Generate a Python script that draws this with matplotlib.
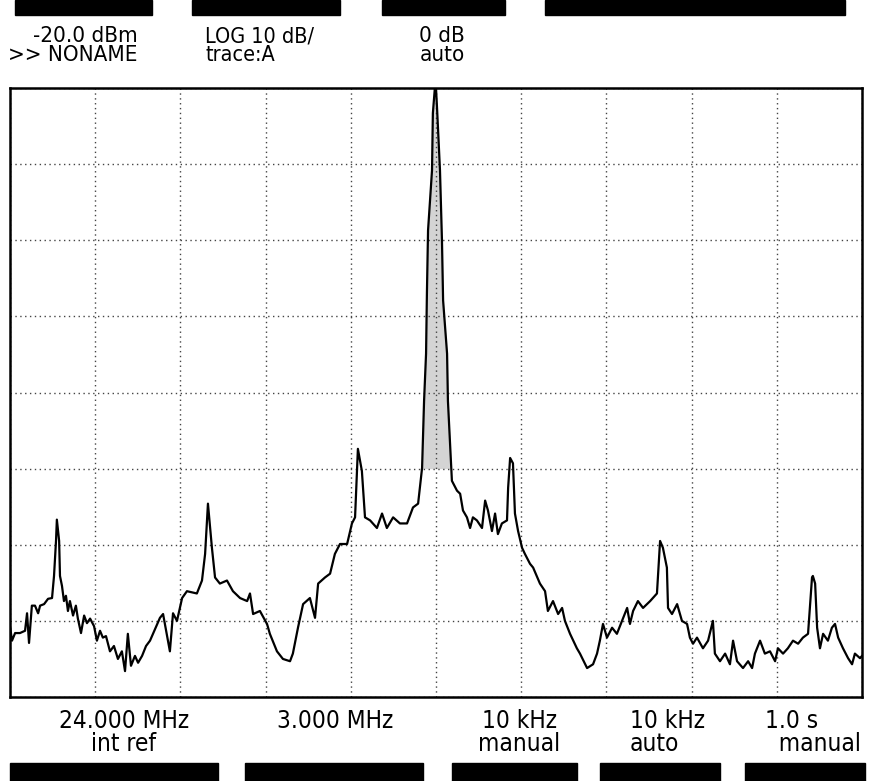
import matplotlib.pyplot as plt
import matplotlib.patches as patches
import numpy as np

# spectrum analyser settings
center_mhz = 24.0
span_mhz = 3.0
ref_level = -20.0
db_per_div = 10

# trace (MHz, dBm)
freq = [22.500, 22.507, 22.518, 22.535, 22.553, 22.560, 22.567, 22.577, 22.588, 22.599,
        22.606, 22.620, 22.634, 22.648, 22.655, 22.662, 22.665, 22.673, 22.676, 22.683,
        22.690, 22.697, 22.704, 22.711, 22.722, 22.732, 22.739, 22.750, 22.761, 22.771,
        22.782, 22.796, 22.806, 22.817, 22.827, 22.838, 22.852, 22.866, 22.880, 22.894,
        22.905, 22.915, 22.926, 22.940, 22.951, 22.965, 22.979, 22.993, 23.028, 23.039,
        23.063, 23.074, 23.088, 23.106, 23.123, 23.158, 23.176, 23.187, 23.197, 23.211,
        23.222, 23.239, 23.264, 23.285, 23.310, 23.335, 23.345, 23.356, 23.380, 23.405,
        23.415, 23.440, 23.461, 23.486, 23.496, 23.514, 23.532, 23.556, 23.574, 23.585,
        23.609, 23.627, 23.644, 23.662, 23.687, 23.704, 23.715, 23.725, 23.739, 23.750,
        23.768, 23.792, 23.810, 23.827, 23.849, 23.873, 23.898, 23.919, 23.937, 23.951,
        23.954, 23.958, 23.965, 23.968, 23.972, 23.986, 23.989, 23.996, 24.000, 24.004,
        24.014, 24.021, 24.025, 24.039, 24.042, 24.049, 24.056, 24.074, 24.085, 24.095,
        24.109, 24.120, 24.130, 24.144, 24.162, 24.173, 24.183, 24.197, 24.208, 24.218,
        24.232, 24.250, 24.254, 24.261, 24.271, 24.278, 24.289, 24.303, 24.313, 24.331,
        24.342, 24.366, 24.384, 24.394, 24.412, 24.430, 24.444, 24.454, 24.472, 24.496,
        24.507, 24.532, 24.553, 24.567, 24.577, 24.588, 24.602, 24.620, 24.637, 24.655,
        24.673, 24.683, 24.694, 24.711, 24.729, 24.754, 24.778, 24.789, 24.799, 24.813,
        24.817, 24.831, 24.849, 24.866, 24.884, 24.894, 24.905, 24.919, 24.940, 24.958,
        24.975, 24.982, 25.000, 25.018, 25.035, 25.046, 25.060, 25.081, 25.099, 25.113,
        25.123, 25.141, 25.158, 25.176, 25.194, 25.204, 25.222, 25.239, 25.257, 25.275,
        25.292, 25.310, 25.324, 25.327, 25.335, 25.342, 25.352, 25.363, 25.380, 25.394,
        25.405, 25.416, 25.433, 25.451, 25.465, 25.475, 25.493, 25.500]
level = [-90.7, -92.6, -91.6, -91.6, -91.3, -89.0, -92.9, -88.0, -88.0, -89.0,
         -88.0, -87.8, -87.1, -87.0, -84.1, -79.5, -76.7, -79.5, -84.1, -85.4,
         -87.4, -86.7, -88.7, -87.4, -89.3, -88.0, -89.7, -91.6, -89.3, -90.3,
         -89.7, -90.7, -92.6, -91.3, -92.2, -92.0, -94.0, -93.3, -95.0, -94.0,
         -96.6, -91.7, -95.9, -94.6, -95.5, -94.6, -93.3, -92.6, -89.6, -89.1,
         -94.0, -89.0, -90.0, -87.0, -86.1, -86.4, -84.7, -81.2, -74.6, -80.4,
         -84.3, -85.1, -84.7, -86.1, -87.0, -87.4, -86.4, -89.1, -88.7, -90.4,
         -91.7, -94.0, -95.0, -95.3, -94.3, -90.9, -87.8, -87.0, -89.6, -85.1,
         -84.3, -83.8, -81.2, -79.9, -79.9, -77.2, -76.4, -67.4, -70.3, -76.4,
         -76.8, -77.8, -75.9, -77.8, -76.4, -77.2, -77.2, -75.1, -74.6, -69.9,
         -66.3, -61.1, -54.9, -47.0, -38.7, -30.8, -23.3, -20.0, -20.0, -22.9,
         -30.8, -40.0, -47.9, -54.9, -61.1, -66.3, -71.6, -72.9, -73.3, -75.5,
         -76.4, -77.8, -76.4, -76.8, -77.8, -74.2, -75.5, -78.2, -75.9, -78.6,
         -77.2, -76.8, -72.5, -68.6, -69.3, -75.9, -78.2, -80.4, -81.2, -82.5,
         -83.0, -85.1, -86.1, -88.7, -87.4, -89.1, -88.3, -90.0, -91.7, -93.6,
         -94.3, -96.2, -95.7, -94.3, -92.6, -90.4, -92.2, -90.9, -91.7, -90.0,
         -88.3, -90.4, -88.7, -87.4, -88.3, -87.4, -86.4, -79.5, -80.4, -83.0,
         -88.3, -89.1, -87.8, -90.0, -90.4, -92.2, -93.0, -92.2, -93.6, -92.6,
         -90.0, -94.3, -95.3, -94.3, -95.7, -92.6, -95.3, -96.2, -95.3, -96.2,
         -94.3, -92.6, -94.3, -94.0, -95.3, -93.6, -94.3, -93.6, -92.6, -93.0,
         -92.2, -91.7, -84.3, -84.1, -85.1, -90.9, -93.6, -91.7, -92.6, -90.9,
         -90.4, -92.2, -93.6, -94.9, -95.7, -94.3, -94.9, -94.6]

header_left = ["-20.0 dBm", ">> NONAME"]
header_mid = ["LOG 10 dB/", "trace:A"]
header_att = ["0 dB", "auto"]
footer = [("24.000 MHz", "int ref"), ("3.000 MHz", ""), ("10 kHz", "manual"),
          ("10 kHz", "auto"), ("1.0 s", "  manual")]

W, H = 873, 781
fig = plt.figure(figsize=(W / 100, H / 100), dpi=100)
fig.patch.set_facecolor("white")

ax = fig.add_axes([10 / W, 1 - 697 / H, 852 / W, 609 / H])
f = np.array(freq)
l = np.array(level)

# grey inside of the carrier peak
pk = (f > 23.95) & (f < 24.06)
ax.fill_between(f, l, -70, where=pk & (l > -70), color="#d4d4d4", lw=0, zorder=1)
ax.plot(f, l, color="black", lw=1.6, zorder=3)

x0 = center_mhz - span_mhz / 2
x1 = center_mhz + span_mhz / 2
ax.set_xlim(x0, x1)
ax.set_ylim(ref_level - 8 * db_per_div, ref_level)
ax.set_xticks(np.linspace(x0, x1, 11))
ax.set_yticks(np.arange(ref_level - 8 * db_per_div, ref_level + 1, db_per_div))
ax.grid(True, color="#444444", linestyle=(0, (1, 2.5)), lw=1.0)
ax.tick_params(length=0, labelbottom=False, labelleft=False)
for s in ax.spines.values():
    s.set_linewidth(1.8)
    s.set_color("black")

def t(x, y, lines, size, ha="left"):
    # two-line screen annotation, y is the top in pixels
    fig.text(x / W, 1 - y / H, "\n".join(lines), family="DejaVu Sans",
             fontstretch="condensed", fontsize=size, va="top", ha=ha,
             multialignment=ha, linespacing=0.95)

# softkey bars at the top and bottom
for (a, b) in [(15, 152), (192, 340), (382, 505), (545, 845)]:
    fig.patches.append(patches.Rectangle((a / W, 1 - 15 / H), (b - a) / W, 15 / H,
                                         transform=fig.transFigure, color="black"))
for (a, b) in [(10, 218), (245, 423), (452, 577), (600, 720), (745, 865)]:
    fig.patches.append(patches.Rectangle((a / W, 0), (b - a) / W, 18 / H,
                                         transform=fig.transFigure, color="black"))

t(138, 26, header_left, 16, ha="right")
t(205, 26, header_mid, 15.5)
t(465, 26, header_att, 16, ha="right")

fx = [(124, "center"), (335, "center"), (519, "center"), (630, "left"), (765, "left")]
for lines, (xa, al) in zip(footer, fx):
    t(xa, 709, [s for s in lines if s], 17.5, ha=al)

fig.savefig("out.png", dpi=100)
